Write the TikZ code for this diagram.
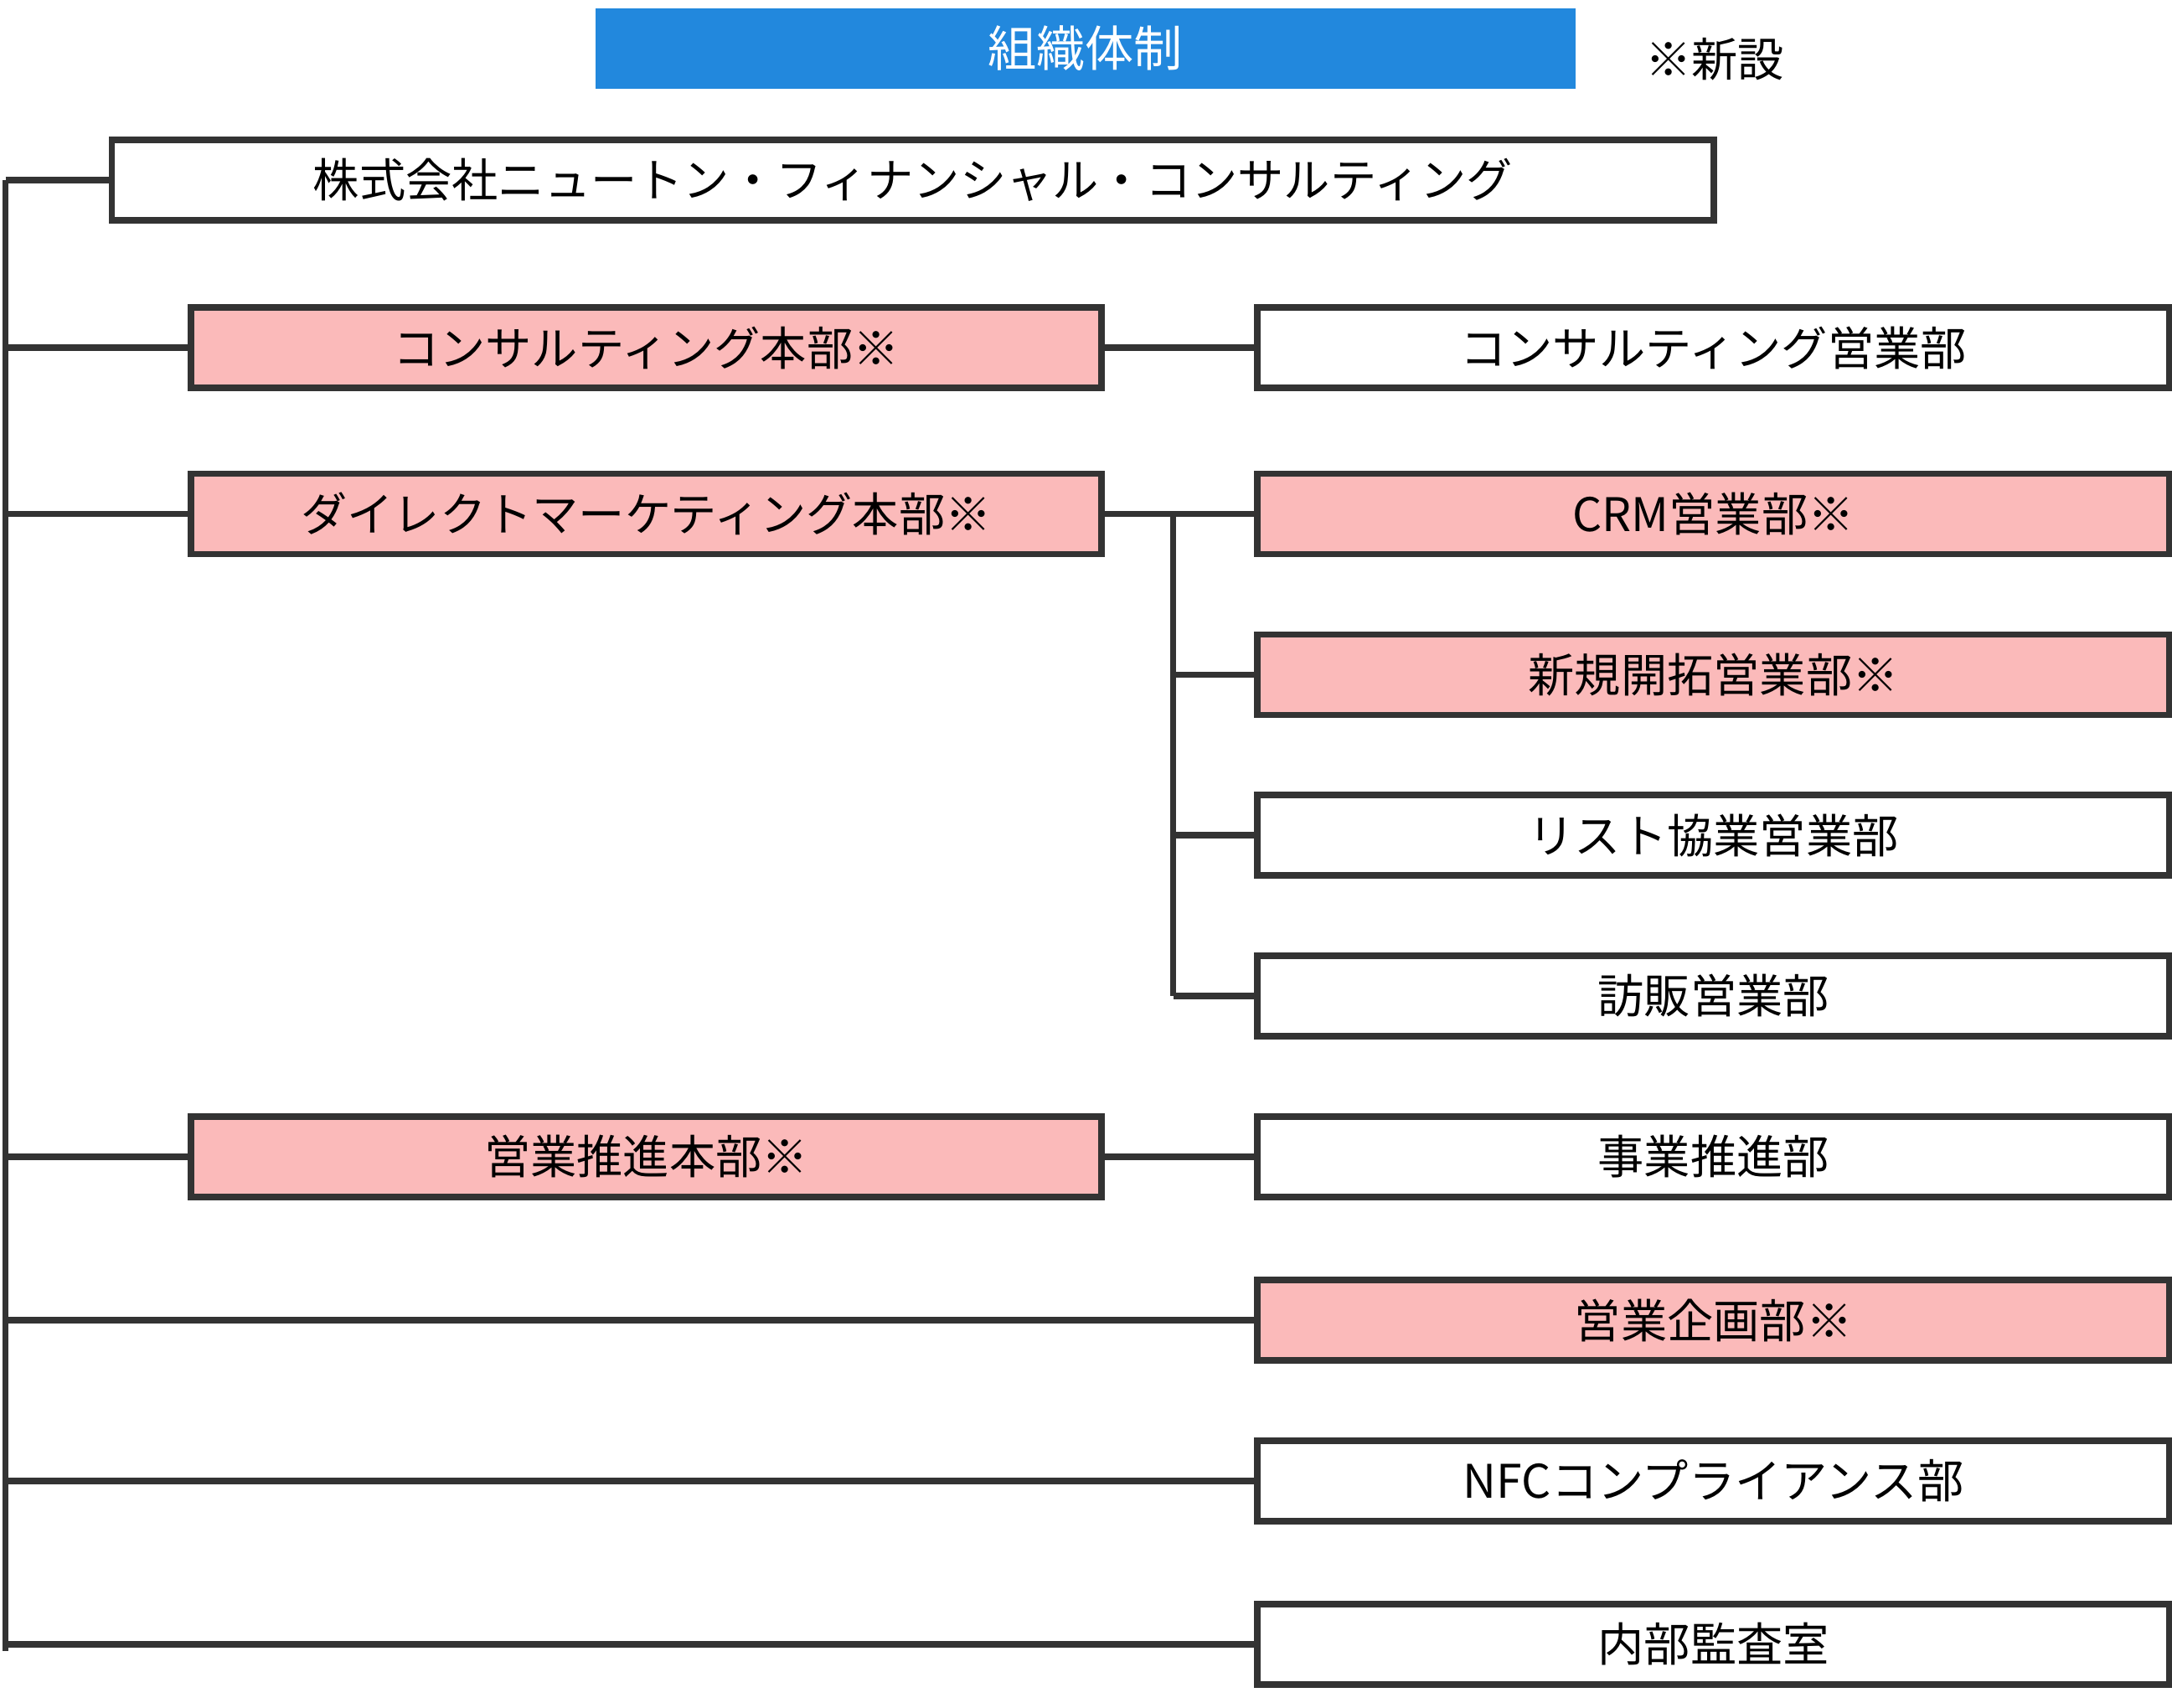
\documentclass[tikz,border=0pt]{standalone}
\usepackage{fontspec}
\setmainfont{Noto Sans CJK JP}
\definecolor{newpink}{HTML}{FBBABA}
\definecolor{titleblue}{HTML}{2288DD}
\definecolor{linegray}{HTML}{333333}
\tikzset{
  unit/.style={draw=linegray, line width=1.3pt, minimum height=0.58cm, inner sep=0pt, font=\fontsize{9.5}{11}\selectfont},
  leftunit/.style={unit, minimum width=6.57cm},
  rightunit/.style={unit, minimum width=6.58cm},
  newunit/.style={fill=newpink},
  link/.style={draw=linegray, line width=1.3pt}
}
\begin{document}
\begin{tikzpicture}[x=0.01cm, y=-0.01cm]
    \useasboundingbox (0,0) rectangle (1568,1233);

    \node[fill=titleblue, text=white, minimum width=7.07cm, minimum height=0.58cm, inner sep=0pt, font=\fontsize{10}{12}\selectfont] (title) at (783.5,35) {組織体制};
    \node[font=\fontsize{9.5}{11}\selectfont] (note) at (1238,43) {※新設};

    \node[unit, minimum width=11.56cm] (company) at (659,130) {株式会社ニュートン・フィナンシャル・コンサルティング};

    \node[leftunit, newunit] (consult) at (466.5,251) {コンサルティング本部※};
    \node[leftunit, newunit] (direct) at (466.5,371) {ダイレクトマーケティング本部※};
    \node[leftunit, newunit] (promo) at (466.5,835) {営業推進本部※};

    \node[rightunit] (consultsales) at (1237,251) {コンサルティング営業部};
    \node[rightunit, newunit] (crm) at (1237,371) {CRM営業部※};
    \node[rightunit, newunit] (newbiz) at (1237,487) {新規開拓営業部※};
    \node[rightunit] (listsales) at (1237,603) {リスト協業営業部};
    \node[rightunit] (visitsales) at (1237,719) {訪販営業部};
    \node[rightunit] (bizpromo) at (1237,835) {事業推進部};
    \node[rightunit, newunit] (planning) at (1237,953) {営業企画部※};
    \node[rightunit] (compliance) at (1237,1069) {NFCコンプライアンス部};
    \node[rightunit] (audit) at (1237,1187) {内部監査室};

    % trunk on the left
    \coordinate (top) at (4,130);
    \coordinate (bottom) at (4,1192);
    \draw[link] (top) -- (bottom);
    \draw[link] (top) -- (company.west);
    \foreach \n in {consult, direct, promo, planning, compliance, audit}
        \draw[link] (\n.west) -- (\n.west -| top);

    % branches to the right
    \draw[link] (consult.east) -- (consultsales.west);
    \draw[link] (promo.east) -- (bizpromo.west);
    \coordinate (fork) at (847,371);
    \draw[link] (direct.east) -- (crm.west);
    \draw[link] (fork) -- (fork |- visitsales.west);
    \foreach \n in {newbiz, listsales, visitsales}
        \draw[link] (fork |- \n.west) -- (\n.west);
\end{tikzpicture}
\end{document}
